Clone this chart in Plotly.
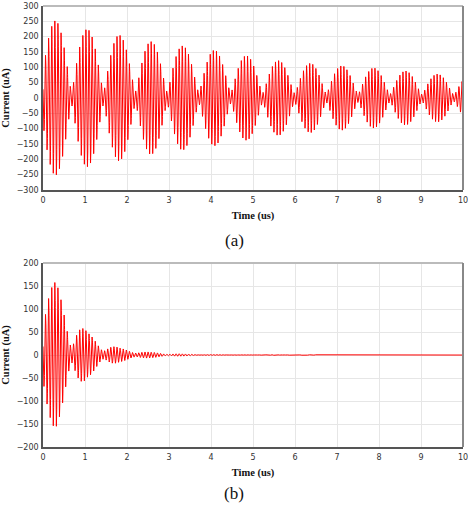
import numpy as np
import plotly.graph_objects as go

# ---- values ----
lobe_center_us = [0.30, 1.06, 1.82, 2.58, 3.33, 4.09, 4.85, 5.61, 6.37, 7.12, 7.88, 8.64, 9.40, 10.16]
top_lobe_peak_uA = [252, 224, 205, 184, 170, 156, 138, 122, 113, 105, 98, 88, 78, 72]
top_lobe_node_uA = [25, 24, 23, 22, 21, 20, 18, 17, 16, 15, 14, 13, 12, 12]
bot_lobe_peak_uA = [158, 48, 15, 6, 2.5, 1.2, 0.8, 0.6, 0.5, 0.4, 0.4, 0.3, 0.3, 0.3]
bot_lobe_node_uA = [22, 12, 6, 2.5, 1.0, 0.6, 0.4, 0.3, 0.3, 0.2, 0.2, 0.2, 0.2, 0.2]
carrier_period_us = 0.074
carrier_phase_rad = 1.23
x_ticks = list(range(0, 11))
top_y_ticks = list(range(-300, 301, 50))
bot_y_ticks = list(range(-200, 201, 50))

t = np.linspace(0, 10, 6001)
idx = np.arange(len(lobe_center_us))
c = np.array(lobe_center_us)
frac = np.interp(t, c, idx)
first_step = c[1] - c[0]
frac = np.where(t < c[0], (t - c[0]) / first_step, frac)


def wave(peaks, nodes):
    P = np.interp(t, c, peaks)
    N = np.interp(t, c, nodes)
    a1 = (P + N) / 2
    a2 = (P - N) / 2
    env = np.sqrt(np.maximum(a1**2 + a2**2 + 2 * a1 * a2 * np.cos(2 * np.pi * frac), 0))
    return env * np.cos(2 * np.pi * t / carrier_period_us + carrier_phase_rad)


y_top = wave(top_lobe_peak_uA, top_lobe_node_uA)
y_bot = wave(bot_lobe_peak_uA, bot_lobe_node_uA)

fig = go.Figure()
fig.add_trace(go.Scatter(x=t, y=y_top, mode="lines", line=dict(color="#ff0000", width=1),
                         xaxis="x", yaxis="y", showlegend=False, hoverinfo="skip"))
fig.add_trace(go.Scatter(x=t, y=y_bot, mode="lines", line=dict(color="#ff0000", width=1),
                         xaxis="x2", yaxis="y2", showlegend=False, hoverinfo="skip"))

W, H = 468, 507
xdom = [43 / W, 463 / W]
top_dom = [1 - 190 / H, 1 - 6 / H]
bot_dom = [1 - 447 / H, 1 - 263 / H]

tick_font = dict(family="DejaVu Sans", size=8, color="#333")
title_font = dict(family="Liberation Serif, Times New Roman", size=10.5, color="#111", weight="bold")
grid = "#e6e6e6"
axline = "#555"


def xax(anchor):
    return dict(domain=xdom, anchor=anchor, range=[0, 10], tickvals=x_ticks, showgrid=True,
                gridcolor=grid, gridwidth=1, zeroline=False, showline=True, linecolor=axline,
                linewidth=1.5, mirror=False, tickfont=tick_font, ticks="outside", ticklen=2,
                tickcolor="rgba(0,0,0,0)", ticklabeloverflow="allow", automargin=False,
                title=dict(text="Time (us)", font=title_font, standoff=7))


def yax(anchor, dom, rng, vals):
    return dict(domain=dom, anchor=anchor, range=rng, tickvals=vals, showgrid=True,
                gridcolor=grid, gridwidth=1, zeroline=False, showline=True, linecolor=axline,
                linewidth=1.5, mirror=False, tickfont=tick_font, ticks="outside", ticklen=1,
                tickcolor="rgba(0,0,0,0)", ticklabeloverflow="allow", automargin=False,
                title=dict(text="Current (uA)", font=title_font, standoff=5))


shapes = []
for xa, ya in (("x", "y"), ("x2", "y2")):
    shapes.append(dict(type="line", xref=f"{xa} domain", yref=f"{ya} domain",
                       x0=0, x1=1, y0=1, y1=1, line=dict(color="#bbbbbb", width=2)))
    shapes.append(dict(type="line", xref=f"{xa} domain", yref=f"{ya} domain",
                       x0=1, x1=1, y0=0, y1=1, line=dict(color="#888888", width=2)))

fig.update_layout(
    width=W, height=H, margin=dict(l=0, r=0, t=0, b=0),
    paper_bgcolor="white", plot_bgcolor="white",
    xaxis=xax("y"), yaxis=yax("x", top_dom, [-300, 300], top_y_ticks),
    xaxis2=xax("y2"), yaxis2=yax("x2", bot_dom, [-200, 200], bot_y_ticks),
    shapes=shapes,
    annotations=[
        dict(text="(a)", x=0.5, y=1 - 240 / H, xref="paper", yref="paper", showarrow=False,
             xanchor="center", yanchor="middle",
             font=dict(family="Liberation Serif, Times New Roman", size=17, color="#111")),
        dict(text="(b)", x=0.5, y=1 - 493 / H, xref="paper", yref="paper", showarrow=False,
             xanchor="center", yanchor="middle",
             font=dict(family="Liberation Serif, Times New Roman", size=17, color="#111")),
    ],
)

fig.write_html("out.html")
